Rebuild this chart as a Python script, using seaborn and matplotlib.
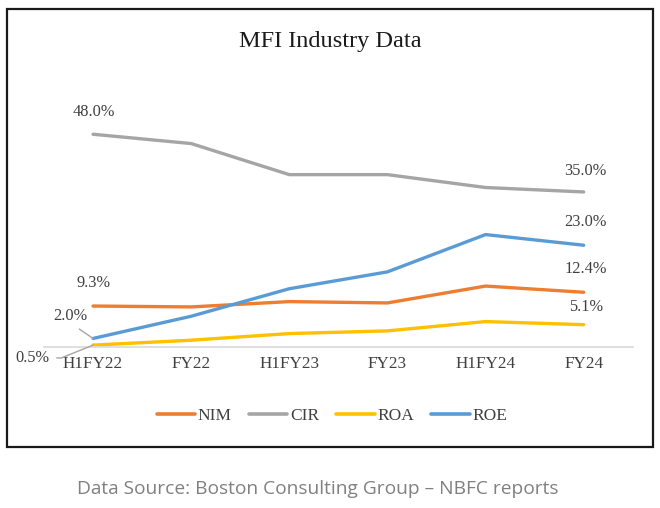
import pandas as pd
import matplotlib.pyplot as plt
import seaborn as sns
from matplotlib.patches import Rectangle

# Data
periods = ["H1FY22", "FY22", "H1FY23", "FY23", "H1FY24", "FY24"]
nim = [9.3, 9.1, 10.3, 10.0, 13.8, 12.4]
cir = [48.0, 45.9, 38.9, 38.9, 36.0, 35.0]
roa = [0.5, 1.6, 3.1, 3.7, 5.8, 5.1]
roe = [2.0, 7.0, 13.2, 17.0, 25.4, 23.0]

df = pd.DataFrame({"period": periods, "NIM": nim, "CIR": cir, "ROA": roa, "ROE": roe})
df_long = df.melt(id_vars="period", var_name="metric", value_name="value")

colors = {"NIM": "#ED7D31", "CIR": "#A5A5A5", "ROA": "#FFC000", "ROE": "#5B9BD5"}

sns.set_style("white")
plt.rcParams["font.family"] = ["Liberation Serif", "DejaVu Serif"]

fig = plt.figure(figsize=(6.6, 5.08), dpi=100)
ax = fig.add_axes([0.0667, 0.3163, 0.892, 0.5243])

sns.lineplot(data=df_long, x="period", y="value", hue="metric", palette=colors,
             linewidth=2.4, sort=False, ax=ax, legend=False)

ax.set_xlim(-0.5, 5.5)
ax.set_ylim(0, 60)
ax.set_yticks([])
ax.set_xlabel("")
ax.set_ylabel("")
for s in ["top", "right", "left"]:
    ax.spines[s].set_visible(False)
ax.spines["bottom"].set_color("#D9D9D9")
ax.spines["bottom"].set_linewidth(1.2)
ax.tick_params(axis="x", length=0, pad=6, labelsize=12.3, labelcolor="#404040")

lab = dict(fontsize=11.8, color="#404040")
# left-side labels
ax.text(0.01, 53.0, "48.0%", ha="center", va="center", **lab)
ax.text(0.0, 14.5, "9.3%", ha="center", va="center", **lab)
ax.annotate("2.0%", xy=(0, roe[0]), xytext=(-0.23, 7.0), ha="center", va="center",
            arrowprops=dict(arrowstyle="-", color="#A5A5A5", lw=1, relpos=(0.55, 0),
                            shrinkA=2, shrinkB=0), **lab)
ax.annotate("0.5%", xy=(0, roa[0]), xytext=(-0.62, -2.4), ha="center", va="center",
            annotation_clip=False,
            arrowprops=dict(arrowstyle="-", color="#A5A5A5", lw=1,
                            connectionstyle="angle,angleA=0,angleB=22,rad=0",
                            shrinkA=3, shrinkB=0), **lab)
# right-side labels
ax.text(5.02, 39.8, "35.0%", ha="center", va="center", **lab)
ax.text(5.02, 28.2, "23.0%", ha="center", va="center", **lab)
ax.text(5.02, 17.7, "12.4%", ha="center", va="center", **lab)
ax.text(5.02, 9.0, "5.1%", ha="center", va="center", **lab)

fig.text(0.5, 0.919, "MFI Industry Data", ha="center", va="center",
         fontsize=17.5, color="#1a1a1a")

# legend
handles = [plt.Line2D([], [], color=colors[m], lw=2.6) for m in ["NIM", "CIR", "ROA", "ROE"]]
fig.legend(handles, ["NIM", "CIR", "ROA", "ROE"], loc="center", bbox_to_anchor=(0.503, 0.182),
           ncol=4, frameon=False, fontsize=12.5, handlelength=2.2, handletextpad=0.15,
           columnspacing=1.0, labelcolor="#404040")

# outer box
fig.patches.append(Rectangle((7 / 660, 1 - 447 / 508), 646 / 660, 438 / 508,
                             transform=fig.transFigure, fill=False,
                             edgecolor="#1a1a1a", linewidth=1.6))

fig.text(0.482, 0.037, "Data Source: Boston Consulting Group \u2013 NBFC reports",
         ha="center", va="center", fontsize=13.8, color="#808080", family="Open Sans")

plt.savefig("out.png", dpi=100)
plt.close()
